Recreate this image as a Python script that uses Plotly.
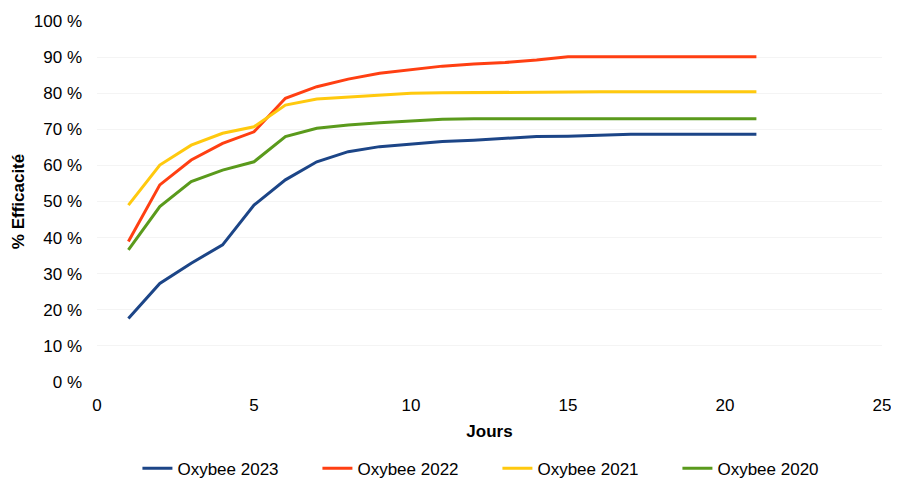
import plotly.graph_objects as go

days = list(range(1, 22))
oxy2023 = [17.6, 27.3, 32.9, 38.0, 49.0, 56.0, 61.0, 63.8, 65.2, 65.9, 66.6, 67.0, 67.5, 68.0, 68.1, 68.4, 68.6, 68.6, 68.6, 68.6, 68.6]
oxy2022 = [38.9, 54.6, 61.5, 66.1, 69.3, 78.6, 81.8, 83.9, 85.5, 86.6, 87.5, 88.1, 88.5, 89.2, 90.1, 90.1, 90.1, 90.1, 90.1, 90.1, 90.1]
oxy2021 = [49.0, 60.1, 65.6, 68.9, 70.7, 76.7, 78.4, 78.9, 79.6, 80.0, 80.1, 80.2, 80.2, 80.3, 80.3, 80.4, 80.4, 80.4, 80.4, 80.4, 80.4]
oxy2020 = [36.6, 48.6, 55.5, 58.7, 61.0, 68.0, 70.3, 71.2, 71.8, 72.4, 72.8, 72.9, 72.9, 72.9, 72.9, 72.9, 72.9, 72.9, 72.9, 72.9, 72.9]

series = [
    ("Oxybee 2023", oxy2023, "#1c4587"),
    ("Oxybee 2022", oxy2022, "#ff3f12"),
    ("Oxybee 2021", oxy2021, "#ffc90e"),
    ("Oxybee 2020", oxy2020, "#5a9a1c"),
]

fig = go.Figure()
for name, vals, col in series:
    fig.add_trace(go.Scatter(x=days, y=vals, mode="lines", name=name,
                             line=dict(color=col, width=3)))

font = dict(family="Liberation Sans, Arial, sans-serif", size=17, color="#000000")

# page has an 8px body margin: keep figure within 899x487 window
fig.update_layout(
    width=883, height=471,
    margin=dict(l=89, r=9, t=13, b=97, autoexpand=False),
    paper_bgcolor="white", plot_bgcolor="white",
    font=font,
    showlegend=True,
    legend=dict(orientation="h", x=0.0515, xanchor="left", y=-0.24, yanchor="middle",
                font=dict(size=17), itemwidth=30, traceorder="normal",
                entrywidth=135, entrywidthmode="pixels"),
    xaxis=dict(range=[0, 25], tickvals=[0, 5, 10, 15, 20, 25], showgrid=False,
               zeroline=False, showline=False, ticks="", automargin=False,
               ticklabelstandoff=11, ticklabeloverflow="allow",
               title=dict(text="<b>Jours</b>", standoff=11, font=dict(size=17))),
    yaxis=dict(range=[0, 100], tickvals=list(range(0, 101, 10)),
               ticktext=[f"{v} %" for v in range(0, 101, 10)],
               showgrid=True, gridcolor="#f4f4f4", zeroline=False, showline=False,
               ticks="", ticklabelstandoff=14, automargin=False,
               title=dict(text="<b>% Efficacité</b>", standoff=4, font=dict(size=17))),
)

fig.write_html("out.html")
